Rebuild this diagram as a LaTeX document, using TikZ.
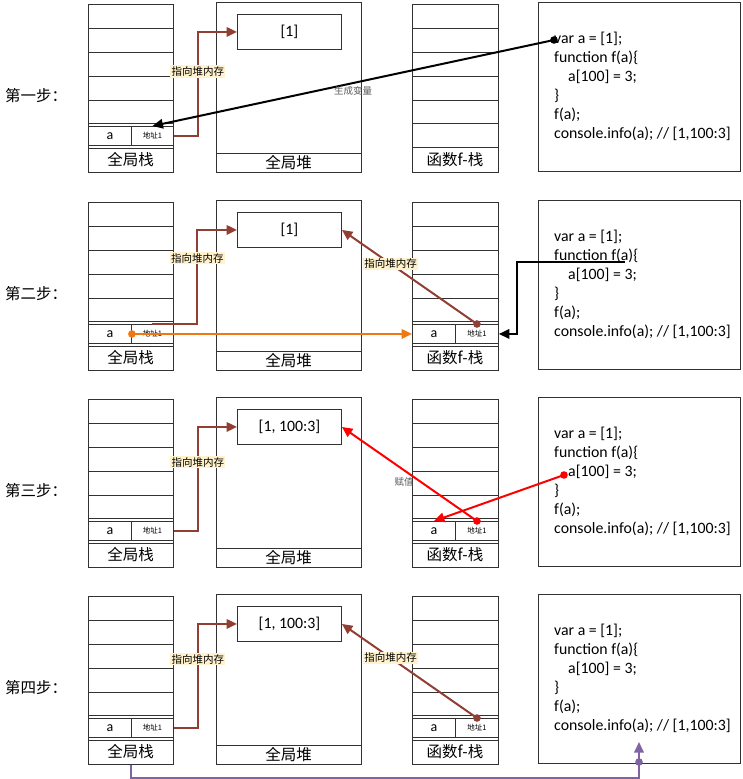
\documentclass[tikz,border=0pt]{standalone}
\usepackage{fontspec}
\setmainfont{Carlito}
\newfontfamily\cjk{Noto Sans CJK SC}
\usetikzlibrary{arrows.meta}
\definecolor{lc}{RGB}{50,50,50}
\definecolor{brn}{RGB}{145,62,52}
\definecolor{org}{RGB}{240,120,20}
\definecolor{prp}{RGB}{128,100,162}
\definecolor{lblbg}{RGB}{255,242,204}
\definecolor{notec}{RGB}{90,90,90}
\begin{document}
\begin{tikzpicture}[x=1pt,y=-1pt,
  frame/.style={draw=lc, line width=0.9pt},
  slot/.style={frame, inner sep=0pt, anchor=north west, minimum height=19pt},
  big/.style={font=\cjk\fontsize{15.5}{16}\selectfont, inner sep=0pt},
  codeln/.style={font=\fontsize{15.8}{18}\selectfont, anchor=west, inner sep=0pt, text height=11.5pt, text depth=3.5pt},
  tag/.style={font=\cjk\fontsize{10.5}{11}\selectfont, fill=lblbg, inner sep=1.2pt, text=black},
  addr/.style={font=\cjk\fontsize{7.5}{7.5}\selectfont},
  letter/.style={font=\fontsize{14}{14}\selectfont},
  notelbl/.style={font=\cjk\fontsize{9.5}{10}\selectfont, text=notec, inner sep=1pt},
  arw/.style={line width=2pt, -{Triangle[length=10.5pt,width=9.5pt]}},
]
\useasboundingbox (0,0) rectangle (742,779);

\foreach \s/\o/\t/\h in {1/0/第一步：/{[1]}, 2/198/第二步：/{[1]}, 3/395/第三步：/{[1, 100:3]}, 4/592/第四步：/{[1, 100:3]}} {
\begin{scope}[shift={(0,\o)}]
  \node[big, anchor=west] (st\s) at (5,96) {\t};
  % global stack
  \node[frame, anchor=north west, minimum width=85pt, minimum height=168pt, inner sep=0pt] (gs\s) at (88,4) {};
  \foreach \yy in {28,52,76,100,123,148} \draw[frame] (88,\yy) -- (173,\yy);
  \node[slot, minimum width=43pt, letter] (ga\s) at (88,126) {a};
  \node[slot, minimum width=42pt, addr] (gp\s) at (131,126) {地址1};
  \node[big] (gl\s) at (130.5,160) {全局栈};
  % heap
  \node[frame, anchor=north west, minimum width=145pt, minimum height=170pt, inner sep=0pt] (hp\s) at (216,2) {};
  \draw[frame] (216,153) -- (361,153);
  \node[big] (hl\s) at (288.5,163) {全局堆};
  \node[frame, anchor=north west, minimum width=104pt, minimum height=35pt, inner sep=0pt, font=\fontsize{15.8}{16}\selectfont] (hb\s) at (237,14) {\h};
  % function stack
  \node[frame, anchor=north west, minimum width=86pt, minimum height=168pt, inner sep=0pt] (fs\s) at (412,4) {};
  \ifnum\s=1
    \foreach \yy in {28,52,76,100,123,147} \draw[frame] (412,\yy) -- (498,\yy);
  \else
    \foreach \yy in {28,52,76,100,123,148} \draw[frame] (412,\yy) -- (498,\yy);
    \node[slot, minimum width=43pt, letter] (fa\s) at (412,126) {a};
    \node[slot, minimum width=43pt, addr] (fp\s) at (455,126) {地址1};
  \fi
  \node[big] (fl\s) at (455,160) {函数f-栈};
  % code
  \node[frame, anchor=north west, minimum width=202pt, minimum height=169pt, inner sep=0pt] (cb\s) at (538,2) {};
  \node[codeln] (ca\s) at (554,39) {var a = [1];};
  \node[codeln] (cf\s) at (554,58) {function f(a)\{};
  \node[codeln] (cs\s) at (568,77) {a[100] = 3;};
  \node[codeln] (ce\s) at (554,96) {\}};
  \node[codeln] (cc\s) at (554,115) {f(a);};
  \node[codeln] (ci\s) at (554,134) {console.info(a); // [1,100:3]};
\end{scope}
}

% ---- step 1
\coordinate (bk1) at (554,40);
\draw[brn, arw] (gp1.east) -- ++(24,0) |- (hb1.west) node[tag, pos=0.31] {指向堆内存};
\draw[black, arw] (bk1) -- (gp1.north) node[notelbl, pos=0.5, yshift=-7.5pt] {生成变量};
\fill[black] (bk1) circle (3.8);

% ---- step 2
\draw[brn, arw] (gp2.north) -- ++(45,0) |- (hb2.west) node[tag, pos=0.35] {指向堆内存};
\draw[brn, arw] (fp2.north) -- (hb2.east) node[tag, pos=0.64] {指向堆内存};
\fill[brn] (fp2.north) circle (3.8);
\draw[org, arw] (ga2.east) -- (fa2.west);
\fill[org] (ga2.east) circle (3.8);
\coordinate (bk2) at (625,262);
\draw[black, arw] (bk2) -- ++(-108,0) |- (fp2.east);

% ---- step 3
\draw[brn, arw] (gp3.east) -- ++(24,0) |- (hb3.west) node[tag, pos=0.33] {指向堆内存};
\draw[red, arw] (fp3.north) -- (hb3.east) node[notelbl, pos=0.54, yshift=-12pt] {赋值};
\fill[red] (fp3.north) circle (3.8);
\coordinate (rd3) at (564,475);
\draw[red, arw] (rd3) -- (fa3.north);
\fill[red] (rd3) circle (3.8);

% ---- step 4
\draw[brn, arw] (gp4.east) -- ++(24,0) |- (hb4.west) node[tag, pos=0.33] {指向堆内存};
\draw[brn, arw] (fp4.north) -- (hb4.east) node[tag, pos=0.64] {指向堆内存};
\fill[brn] (fp4.north) circle (3.8);
\coordinate (pe4) at (639,742);
\coordinate (pd4) at (639,762);
\draw[prp, arw] (gs4.south) -- ++(0,13) -| (pe4);
\fill[prp] (pd4) circle (3.8);
\end{tikzpicture}
\end{document}
